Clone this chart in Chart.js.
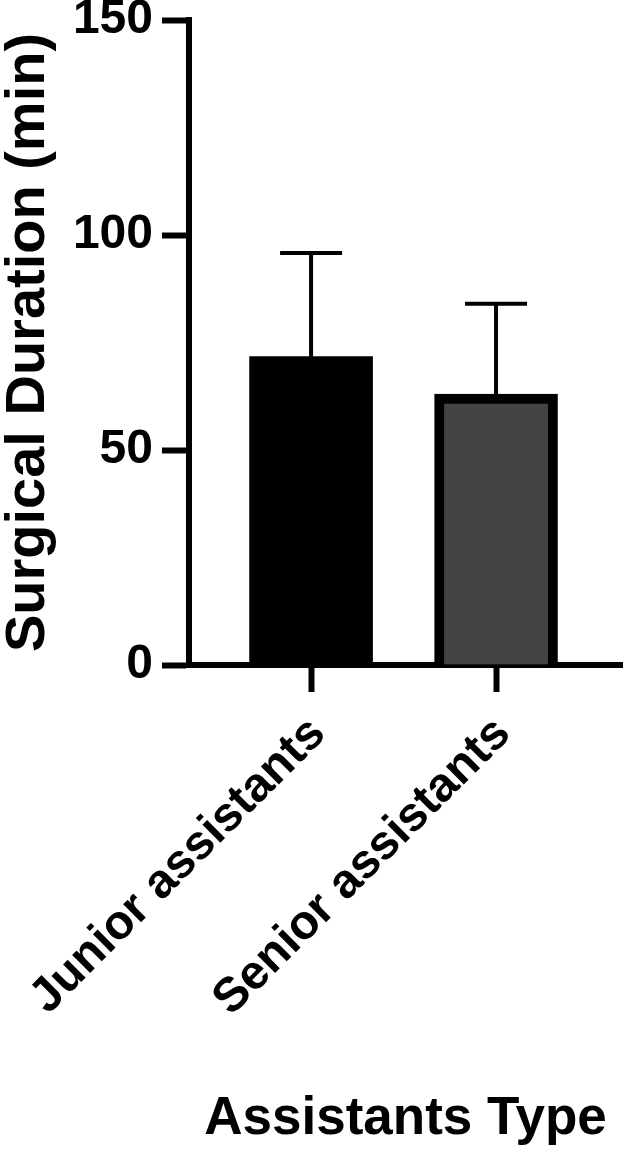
<!DOCTYPE html>
<html>
<head>
<meta charset="utf-8">
<script src="https://cdn.jsdelivr.net/npm/chart.js@4"></script>
<style>
    html, body { margin: 0; padding: 0; background: #ffffff; }
    #wrap { width: 625px; height: 1152px; }
</style>
</head>
<body>
<div id="wrap"><canvas id="duration-chart" width="625" height="1152"></canvas></div>
<script>
// Chart values
const categories = ['Junior assistants', 'Senior assistants'];
const meanMinutes = [71.7, 63.0];
const sdMinutes = [24.1, 21.0];
const yTicks = [0, 50, 100, 150];
const barFills = ['#000000', '#444444'];
const barBorders = ['#000000', '#000000'];
const barBorderWidths = [0, 10];

const FONT = '"Liberation Sans", Arial, sans-serif';

// Draws the upward SD whiskers on top of each bar.
const errorBarPlugin = {
    id: 'errorBars',
    afterDatasetsDraw(chart) {
        const { ctx } = chart;
        const yScale = chart.scales.y;
        const meta = chart.getDatasetMeta(0);
        ctx.save();
        ctx.strokeStyle = '#000000';
        ctx.lineWidth = 4;
        ctx.lineCap = 'butt';
        meta.data.forEach((bar, i) => {
            const top = yScale.getPixelForValue(meanMinutes[i] + sdMinutes[i]);
            const base = yScale.getPixelForValue(meanMinutes[i]);
            ctx.beginPath();
            ctx.moveTo(bar.x, base);
            ctx.lineTo(bar.x, top);
            ctx.moveTo(bar.x - 31, top);
            ctx.lineTo(bar.x + 31, top);
            ctx.stroke();
        });
        ctx.restore();
    }
};

new Chart(document.getElementById('duration-chart').getContext('2d'), {
    type: 'bar',
    data: {
        datasets: [{
            data: meanMinutes.map((v, i) => ({ x: i, y: v })),
            backgroundColor: barFills,
            borderColor: barBorders,
            borderWidth: barBorderWidths,
            barThickness: 123
        }]
    },
    options: {
        responsive: false,
        animation: false,
        layout: { padding: { top: 20, right: 3, left: 0, bottom: 0 } },
        plugins: {
            legend: { display: false },
            tooltip: { enabled: false }
        },
        scales: {
            x: {
                type: 'linear',
                offset: false,
                min: -0.66,
                max: 1.681,
                z: 1,
                afterBuildTicks: (axis) => {
                    axis.ticks = categories.map((c, i) => ({ value: i }));
                },
                afterFit: (axis) => {
                    axis.height = 487;
                    axis.paddingLeft = 0;
                    axis.paddingRight = 0;
                },
                border: { display: true, color: '#000000', width: 6 },
                grid: {
                    offset: false,
                    drawOnChartArea: false,
                    drawTicks: true,
                    tickLength: 27,
                    tickWidth: 6,
                    tickColor: '#000000'
                },
                ticks: {
                    autoSkip: false,
                    minRotation: 45,
                    maxRotation: 45,
                    padding: 14,
                    labelOffset: 7,
                    color: '#000000',
                    font: { family: FONT, size: 48, weight: 'bold' },
                    callback: (value) => categories[value] ?? ''
                },
                title: {
                    display: true,
                    text: 'Assistants Type',
                    color: '#000000',
                    font: { family: FONT, size: 53, weight: 'bold', lineHeight: 1 },
                    padding: { top: 0, bottom: 6 }
                }
            },
            y: {
                min: 0,
                max: 150,
                afterBuildTicks: (axis) => {
                    axis.ticks = yTicks.map(v => ({ value: v }));
                },
                afterFit: (axis) => {
                    axis.width = 189;
                    axis.paddingTop = 0;
                    axis.paddingBottom = 0;
                },
                border: { display: true, color: '#000000', width: 6 },
                grid: {
                    drawOnChartArea: false,
                    drawTicks: true,
                    tickLength: 27,
                    tickWidth: 6,
                    tickColor: '#000000'
                },
                ticks: {
                    padding: 9,
                    color: '#000000',
                    font: { family: FONT, size: 48, weight: 'bold' }
                },
                title: {
                    display: true,
                    text: 'Surgical Duration (min)',
                    color: '#000000',
                    font: { family: FONT, size: 56, weight: 'bold', lineHeight: 1 },
                    padding: { top: 1, bottom: 0 }
                }
            }
        }
    },
    plugins: [errorBarPlugin]
});
</script>
</body>
</html>
